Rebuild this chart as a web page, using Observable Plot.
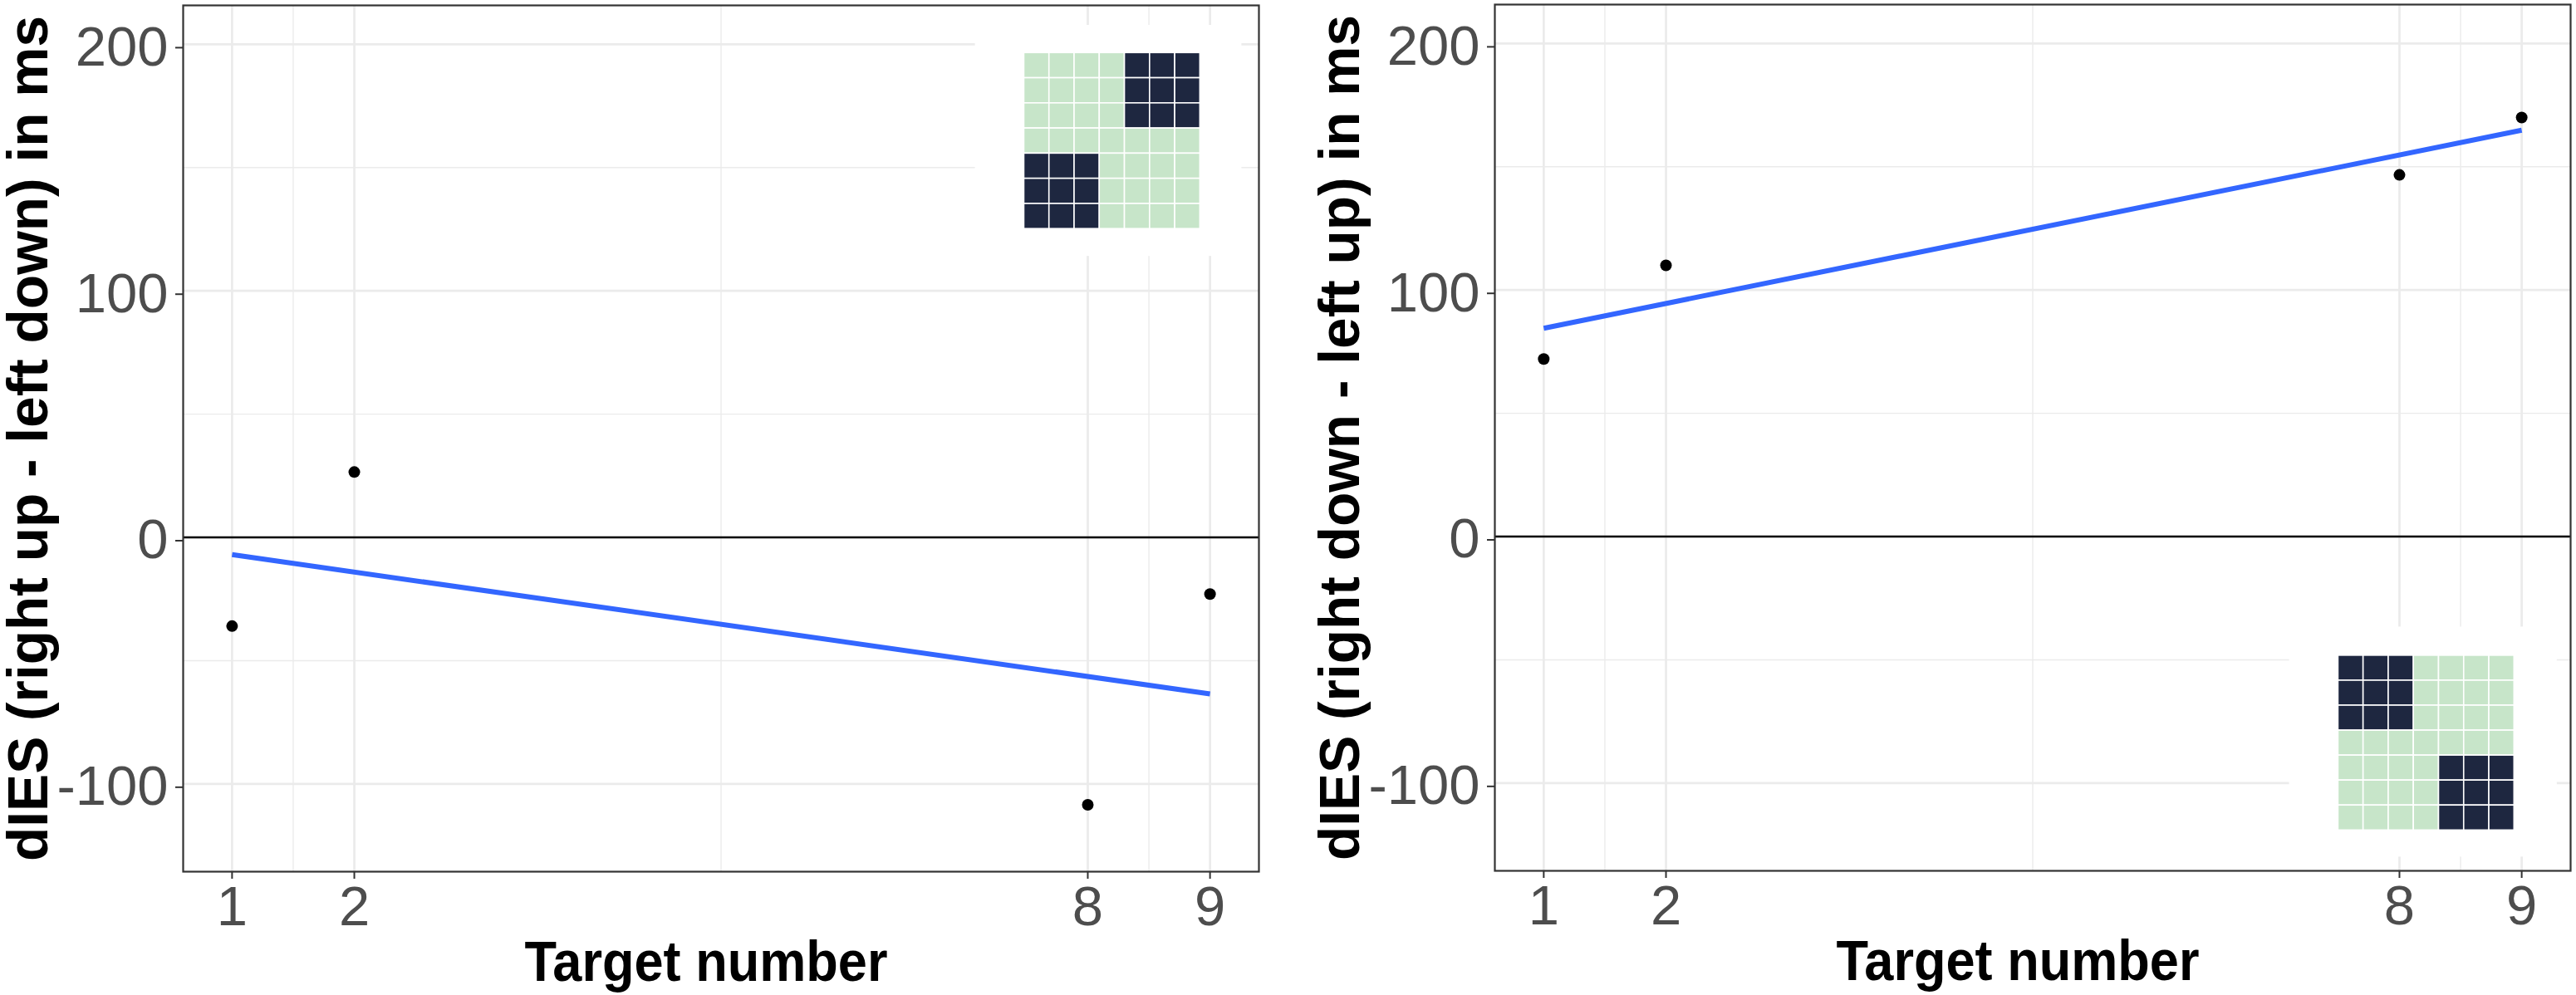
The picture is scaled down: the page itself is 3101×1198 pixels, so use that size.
<!DOCTYPE html>
<html>
<head>
<meta charset="utf-8">
<script src="https://cdn.jsdelivr.net/npm/d3@7"></script>
<script src="https://cdn.jsdelivr.net/npm/@observablehq/plot@0.6"></script>
<style>
  html, body { margin: 0; padding: 0; background: white; }
  #wrap { display: flex; width: 3101px; height: 1198px; overflow: hidden; }
  #wrap svg { display: block; flex: none; }
</style>
</head>
<body>
<div id="wrap"></div>
<script>
// ---- data ----
const targets = [1, 2, 8, 9];
const dIESUpLeftDown = [-36, 26.5, -108.5, -23];   // right up - left down
const dIESDownLeftUp = [72, 110, 146.7, 170];      // right down - left up

const xTicks = [1, 2, 8, 9];
const xMinor = [1.5, 5, 8.5];
const yTicks = [-100, 0, 100, 200];
const yMinor = [-50, 50, 150];

const xTitle = "Target number";
const yTitleLeft = "dIES (right up - left down) in ms";
const yTitleRight = "dIES (right down - left up) in ms";

// 7x7 target layout pictograms (# = highlighted quadrant)
const patternLeft = [
  "....###",
  "....###",
  "....###",
  ".......",
  "###....",
  "###....",
  "###...."
];
const patternRight = [
  "###....",
  "###....",
  "###....",
  ".......",
  "....###",
  "....###",
  "....###"
];

// ---- helpers ----
const FONT = "'Liberation Sans', Arial, Helvetica, sans-serif";
const LINE_BLUE = "#3366FF";

function insetCells(pattern, grid) {
  const [gx1, gx2, gyBottom, gyTop] = grid;
  const n = pattern.length;
  const dx = (gx2 - gx1) / n, dy = (gyTop - gyBottom) / n;
  const cells = [];
  pattern.forEach((row, r) => {
    [...row].forEach((ch, c) => {
      cells.push({
        x1: gx1 + c * dx, x2: gx1 + (c + 1) * dx,
        y1: gyTop - r * dy, y2: gyTop - (r + 1) * dy,
        dark: ch === "#"
      });
    });
  });
  return cells;
}

function panel({values, yTitle, pattern, inset, width, marginLeft, marginRight, marginTop, marginBottom}) {
  const data = targets.map((t, i) => ({x: t, y: values[i]}));
  const cells = insetCells(pattern, inset.grid);
  const [bx1, bx2, by1, by2] = inset.box;
  const svg = Plot.plot({
    width, height: 1198,
    marginLeft, marginRight, marginTop, marginBottom,
    style: {fontFamily: FONT, background: "white", overflow: "visible"},
    x: {domain: [0.6, 9.4]},
    y: {domain: [-135.6, 215.8]},
    marks: [
      Plot.gridX(xMinor, {stroke: "#EBEBEB", strokeOpacity: 1, strokeWidth: 1.4}),
      Plot.gridY(yMinor, {stroke: "#EBEBEB", strokeOpacity: 1, strokeWidth: 1.4}),
      Plot.gridX(xTicks, {stroke: "#EBEBEB", strokeOpacity: 1, strokeWidth: 2.7}),
      Plot.gridY(yTicks, {stroke: "#EBEBEB", strokeOpacity: 1, strokeWidth: 2.7}),
      Plot.ruleY([0], {stroke: "black", strokeWidth: 2.6}),
      // inset pictogram
      Plot.rect([{x1: bx1, x2: bx2, y1: by1, y2: by2}], {x1: "x1", x2: "x2", y1: "y1", y2: "y2", fill: "white"}),
      Plot.rect(cells, {x1: "x1", x2: "x2", y1: "y1", y2: "y2",
        fill: d => d.dark ? "#1E2740" : "#C7E5C9", stroke: "white", strokeWidth: 1.6}),
      Plot.linearRegressionY(data, {x: "x", y: "y", ci: 0, stroke: LINE_BLUE, strokeWidth: 6, strokeLinecap: "butt"}),
      Plot.dot(data, {x: "x", y: "y", r: 7, fill: "black", stroke: "none"}),
      Plot.frame({stroke: "#333333", strokeWidth: 2.2}),
      Plot.axisX(xTicks, {tickSize: 9, tickPadding: 8, fontSize: 67, stroke: "#333333", fill: "#4D4D4D",
        strokeWidth: 2, label: null, tickFormat: d => String(d)}),
      Plot.axisY(yTicks, {tickSize: 9, tickPadding: 9, fontSize: 67, dy: 4, stroke: "#333333", fill: "#4D4D4D",
        strokeWidth: 2, label: null, tickFormat: d => String(d)}),
      Plot.text([xTitle], {frameAnchor: "bottom", lineAnchor: "bottom", textAnchor: "middle", dy: 131, dx: -18,
        fontSize: 68, fontWeight: "bold", fill: "black"}),
      Plot.text([yTitle], {frameAnchor: "left", lineAnchor: "bottom", textAnchor: "middle", rotate: -90, dx: -164,
        fontSize: 67.6, fontWeight: "bold", fill: "black"})
    ]
  });
  const s = d3.select(svg);
  s.selectAll("text").filter(function() { return this.textContent === xTitle; })
    .attr("textLength", 437).attr("lengthAdjust", "spacingAndGlyphs");
  s.selectAll("text").filter(function() { return this.textContent === yTitle; })
    .attr("textLength", 1018).attr("lengthAdjust", "spacingAndGlyphs");
  return svg;
}

const wrap = document.getElementById("wrap");
wrap.appendChild(panel({
  values: dIESUpLeftDown, yTitle: yTitleLeft, pattern: patternLeft,
  inset: {box: [7.08, 9.26, 114.0, 207.7], grid: [7.48, 8.92, 125.1, 196.5]},
  width: 1550, marginLeft: 220, marginRight: 35, marginTop: 6, marginBottom: 149
}));
wrap.appendChild(panel({
  values: dIESDownLeftUp, yTitle: yTitleRight, pattern: patternRight,
  inset: {box: [7.10, 9.29, -130.0, -36.7], grid: [7.50, 8.94, -119.2, -48.3]},
  width: 1551, marginLeft: 249, marginRight: 7, marginTop: 5, marginBottom: 150
}));
</script>
</body>
</html>
